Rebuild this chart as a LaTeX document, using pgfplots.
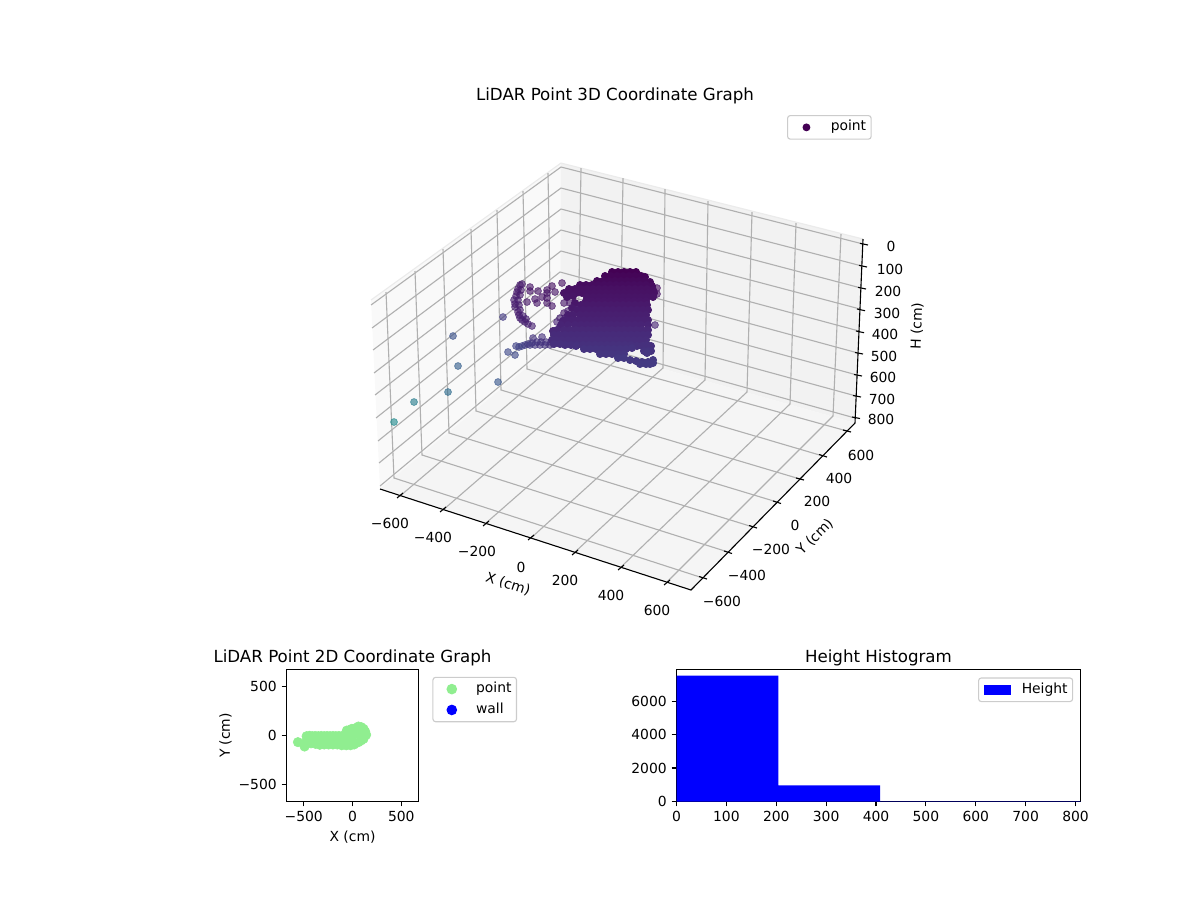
\documentclass[border=0pt]{standalone}
\usepackage{fontspec}
\setmainfont{DejaVu Sans}
\usepackage{pgfplots}
\pgfplotsset{compat=1.18}
\definecolor{gridc}{HTML}{B0B0B0}
\definecolor{legc}{HTML}{CCCCCC}
\definecolor{lgreen}{HTML}{90EE90}
\definecolor{vdark}{HTML}{440154}
\pgfplotsset{
  mpl/.style={
    scale only axis, axis line style={black,line width=.8pt},
    tick align=outside, major tick length=3.5pt,
    tick style={black,line width=.8pt},
    xtick pos=bottom, ytick pos=left,
    tick label style={font=\fontsize{10}{12}\selectfont},
    label style={font=\fontsize{10}{12}\selectfont},
    title style={font=\fontsize{12}{14}\selectfont,yshift=-7pt},
    /pgf/number format/assume math mode=true,
  },
  gl/.style={forget plot,gridc,line width=.8pt,no marks},
  ax/.style={forget plot,black,line width=.8pt,no marks},
  leg/.style={draw=legc,rounded corners=2pt,fill=white,
    font=\fontsize{10}{12}\selectfont,inner xsep=3.6pt,inner ysep=3.6pt,line width=.8pt,
    row sep=5.2pt,
    nodes={inner sep=0pt,text height=7.5pt,text depth=2.3pt},
    /tikz/column 1/.style={column sep=7.5pt}},
  markleg/.style={legend image code/.code={%
    \path[draw=none,fill=none] (0pt,0pt) -- (20pt,0pt);
    \draw[##1] plot coordinates {(10pt,0pt)};}},
}
\newcommand{\tl}[3]{\node[font=\fontsize{10}{12}\selectfont,inner sep=0pt] at (axis cs:#1,#2) {#3};}
\begin{document}
\begin{tikzpicture}
\path[use as bounding box] (0,0) rectangle (864pt,648pt);
\begin{axis}[at={(0,0)},anchor=south west,scale only axis,width=864pt,height=648pt,
  xmin=0,xmax=1200,ymin=0,ymax=900,y dir=reverse,hide axis,clip=false,
  colormap/viridis,point meta min=0,point meta max=1,
  markleg,
  legend style={leg,at={(787/1200,1-115/900)},anchor=north west,legend cell align=left},
  scatter/use mapped color={draw=mapped color,fill=mapped color},
]
% panes
\addplot[forget plot,draw=none,fill=black!2.5] coordinates {(371,300)(561,163)(560,340)(380,489)} -- cycle;
\addplot[forget plot,draw=none,fill=black!5] coordinates {(561,163)(863,239)(855,423)(560,340)} -- cycle;
\addplot[forget plot,draw=none,fill=black!3.75] coordinates {(380,489)(691,590)(855,423)(560,340)} -- cycle;
\addplot[forget plot,black!8,line width=.8pt,no marks] coordinates {(371,300)(561,163)(863,239)};
% grid, walls: H = 0 ... 800
\addplot[gl] coordinates {(371,305)(561,167)(863,244)};
\addplot[gl] coordinates {(372,328)(561,188)(862,266)};
\addplot[gl] coordinates {(373,350)(561,209)(861,288)};
\addplot[gl] coordinates {(374,373)(561,230)(860,309)};
\addplot[gl] coordinates {(375,395)(561,251)(859,331)};
\addplot[gl] coordinates {(376,418)(560,272)(858,353)};
\addplot[gl] coordinates {(378,441)(560,294)(857,375)};
\addplot[gl] coordinates {(379,463)(560,315)(856,396)};
\addplot[gl] coordinates {(380,486)(560,336)(855,418)};
% grid, back wall verticals and floor, X = -600 ... 600
\addplot[gl] coordinates {(581,168)(578,345)(400,496)};
\addplot[gl] coordinates {(623,178)(620,357)(443,510)};
\addplot[gl] coordinates {(665,189)(663,368)(486,523)};
\addplot[gl] coordinates {(708,201)(705,380)(531,538)};
\addplot[gl] coordinates {(752,212)(747,392)(575,552)};
\addplot[gl] coordinates {(796,223)(790,404)(621,567)};
\addplot[gl] coordinates {(841,234)(833,416)(667,582)};
% grid, left wall verticals and floor, Y = -600 ... 600
\addplot[gl] coordinates {(386,292)(394,478)(703,578)};
\addplot[gl] coordinates {(415,271)(422,455)(728,552)};
\addplot[gl] coordinates {(443,249)(449,433)(753,527)};
\addplot[gl] coordinates {(471,229)(476,411)(777,502)};
\addplot[gl] coordinates {(497,210)(501,390)(800,479)};
\addplot[gl] coordinates {(523,191)(527,369)(823,456)};
\addplot[gl] coordinates {(548,173)(551,349)(847,431)};
% axes
\addplot[ax] coordinates {(380,489)(691,590)(855,423)(863,239)};
% ticks
\addplot[ax] coordinates {(397,498)(403,493)};
\addplot[ax] coordinates {(440,512)(446,507)};
\addplot[ax] coordinates {(483,526)(489,521)};
\addplot[ax] coordinates {(528,540)(534,535)};
\addplot[ax] coordinates {(572,555)(578,550)};
\addplot[ax] coordinates {(618,570)(624,565)};
\addplot[ax] coordinates {(664,585)(670,580)};
\addplot[ax] coordinates {(699,576.5)(707,579)};
\addplot[ax] coordinates {(724,551)(732,553.5)};
\addplot[ax] coordinates {(749,525.5)(757,528)};
\addplot[ax] coordinates {(773,501)(781,503.5)};
\addplot[ax] coordinates {(796,478)(804,480)};
\addplot[ax] coordinates {(819,454.5)(827,457)};
\addplot[ax] coordinates {(843,430)(851,432)};
\addplot[ax] coordinates {(860,243.3)(868,245)};
\addplot[ax] coordinates {(859,265.3)(867,267)};
\addplot[ax] coordinates {(858,287.3)(866,289)};
\addplot[ax] coordinates {(857,309)(865,310.7)};
\addplot[ax] coordinates {(856,331)(864,332.7)};
\addplot[ax] coordinates {(855,352.5)(863,354)};
\addplot[ax] coordinates {(854,374.5)(862,376)};
\addplot[ax] coordinates {(853,395.5)(861,397)};
\addplot[ax] coordinates {(852,417)(860,418.5)};
% scattered points, partly transparent
\addplot[forget plot,scatter,only marks,mark=*,mark size=2.5pt,line width=.5pt,scatter src=explicit,
  mark options={fill opacity=.62,draw opacity=.66}] coordinates {
(394,422)[.48](414,402)[.42](448,392)[.35](458,366)[.30](498,382)[.27](453,336)[.25](503,317)[.17](508,352)[.22](515,355)[.22]
(520,285)[.07](518,289)[.07](517,292)[.07](516,296)[.07](514,300)[.08](515,304)[.08](515,307)[.08](518,312)[.08](519,315)[.08]
(520,318)[.09](522,320)[.09](525,322)[.09](528,324)[.09](532,326)[.09]
(522,284)[.07](521,290)[.07](520,295)[.07](518,300)[.08](519,305)[.08](520,310)[.08](523,316)[.09](526,319)[.09]
(530,287)[.05](530,291)[.05](538,291)[.05](547,290)[.05](552,286)[.04](562,283)[.04](555,292)[.05](547,293)[.05](542,297)[.05](535,299)[.06]
(527,302)[.06](537,303)[.06](547,298)[.05](547,303)[.06](552,306)[.06](564,303)[.06](570,303)[.06](564,313)[.07]
(516,346)[.20](522,346)[.19](525,345)[.18](528,344)[.17](532,343)[.16](537,342)[.15](541,342)[.15](546,342)[.14](551,342)[.14]
(519,347)[.20](530,345)[.17](535,345)[.16](540,345)[.15](545,345)[.15](550,345)[.14](533,338)[.15](542,337)[.14]
(557,322)[.10](560,318)[.09](565,318)[.09](560,328)[.11](568,311)[.08](655,325)[.10](657,294)[.05](657,288)[.04]
};
% main cluster
\addplot[forget plot,scatter,only marks,mark=*,mark size=2.6pt,line width=.5pt,scatter src=explicit] coordinates {
(575,303)[.06](572,308)[.07](568,315)[.08](563,321)[.09](553,331)[.11]
(612,272)[0](618,272)[0](624,272)[0](630,272)[0](636,272)[0]
(605,276)[.01](611,276)[.01](617,276)[.01](623,276)[.01](629,276)[.01](635,276)[.01](641,276)[.01](645,277)[.01]
(597,281)[.02](603,281)[.02](609,281)[.02](615,281)[.02](621,281)[.02](627,281)[.02](633,281)[.02](639,281)[.02](645,281)[.02](650,282)[.02]
(580,285)[.03](586,285)[.03](592,285)[.03](598,285)[.03](604,285)[.03](610,285)[.03](616,285)[.03](622,285)[.03](628,285)[.03](634,285)[.03](640,285)[.03](646,285)[.03](652,286)[.03]
(569,289)[.04](575,289)[.04](581,289)[.04](587,289)[.04](593,289)[.04](599,289)[.04](605,289)[.04](611,289)[.04](617,289)[.04](623,289)[.04](629,289)[.04](635,289)[.04](641,289)[.04](647,289)[.04](653,290)[.04]
(564,293)[.045](570,293)[.045](576,293)[.045](582,293)[.045](588,293)[.045](594,293)[.045](600,293)[.045](606,293)[.045](612,293)[.045](618,293)[.045](624,293)[.045](630,293)[.045](636,293)[.045](642,293)[.045](648,293)[.045](654,293)[.045]
(567,297)[.05](573,296)[.05](587,297)[.05](593,297)[.05](599,297)[.05](605,297)[.05](611,297)[.05](617,297)[.05](623,297)[.05](629,297)[.05](635,297)[.05](641,297)[.05](647,297)[.05](653,297)[.05]
(586,301)[.055](592,301)[.055](598,301)[.055](604,301)[.055](610,301)[.055](616,301)[.055](622,301)[.055](628,301)[.055](634,301)[.055](640,301)[.055](646,301)[.055]
(581,305)[.065](587,305)[.065](593,305)[.065](599,305)[.065](605,305)[.065](611,305)[.065](617,305)[.065](623,305)[.065](629,305)[.065](635,305)[.065](641,305)[.065](647,305)[.065]
(577,310)[.075](583,310)[.075](589,310)[.075](595,310)[.075](601,310)[.075](607,310)[.075](613,310)[.075](619,310)[.075](625,310)[.075](631,310)[.075](637,310)[.075](643,310)[.075](648,310)[.075]
(573,315)[.085](580,315)[.085](586,315)[.085](592,315)[.085](598,315)[.085](604,315)[.085](610,315)[.085](616,315)[.085](622,315)[.085](628,315)[.085](634,315)[.085](640,315)[.085](646,315)[.085]
(566,320)[.09](572,320)[.09](578,320)[.09](584,320)[.09](590,320)[.09](596,320)[.09](602,320)[.09](608,320)[.09](614,320)[.09](620,320)[.09](626,320)[.09](632,320)[.09](638,320)[.09](644,320)[.09](648,320)[.09]
(561,325)[.10](568,325)[.10](575,325)[.10](581,325)[.10](587,325)[.10](593,325)[.10](599,325)[.10](605,325)[.10](611,325)[.10](617,325)[.10](623,325)[.10](629,325)[.10](635,325)[.10](641,325)[.10](648,325)[.10]
(557,330)[.11](564,330)[.11](570,330)[.11](576,330)[.11](582,330)[.11](588,330)[.11](594,330)[.11](600,330)[.11](606,330)[.11](612,330)[.11](618,330)[.11](624,330)[.11](630,330)[.11](636,330)[.11](642,330)[.11](648,330)[.11]
(554,335)[.12](559,335)[.12](565,335)[.12](571,335)[.12](577,335)[.12](583,335)[.12](589,335)[.12](595,335)[.12](601,335)[.12](607,335)[.12](613,335)[.12](619,335)[.12](625,335)[.12](631,335)[.12](637,335)[.12](643,335)[.12](648,335)[.12]
(552,340)[.125](556,340)[.125](562,340)[.125](568,340)[.125](574,340)[.125](580,340)[.125](586,340)[.125](592,340)[.125](598,340)[.125](604,340)[.125](610,340)[.125](616,340)[.125](622,340)[.125](628,340)[.125](634,340)[.125](640,340)[.125](646,340)[.125]
(554,344)[.135](560,344)[.135](565,345)[.135](571,345)[.135](577,345)[.135](583,345)[.135](589,345)[.135](595,345)[.135](601,345)[.135](607,345)[.135](613,345)[.135](619,345)[.135](625,345)[.135](631,345)[.135](637,346)[.135](642,346)[.135](647,345)[.135](651,346)[.135]
(576,346)[.14](584,349)[.145](590,349)[.145](596,349)[.145](602,349)[.145](608,349)[.145](614,349)[.145](620,349)[.145](626,349)[.145](632,348)[.145](644,351)[.145](648,351)[.145](651,351)[.145]
(600,354)[.155](606,354)[.155](612,354)[.155](618,354)[.155](624,354)[.155](647,353)[.155]
(618,358)[.165](624,358)[.165](630,360)[.165](636,361)[.165](642,362)[.165](648,362)[.165](653,360)[.165]
(640,364)[.17](646,364)[.17](650,364)[.17](653,363)[.17]
};
\addlegendimage{only marks,mark=*,mark size=2.4pt,draw=vdark,fill=vdark}
\addlegendentry{point}
% text
\node[font=\fontsize{12}{14}\selectfont,inner sep=0pt] at (axis cs:615,96) {LiDAR Point 3D Coordinate Graph};
\tl{390}{523}{−600}\tl{433}{537}{−400}\tl{477}{551}{−200}\tl{521}{567}{0}\tl{565}{580}{200}\tl{611}{595}{400}\tl{657}{610}{600}
\tl{722}{601}{−600}\tl{747}{575}{−400}\tl{771}{549}{−200}\tl{795}{525}{0}\tl{817}{501}{200}\tl{839}{478}{400}\tl{861}{455}{600}
\tl{891}{246}{0}\tl{890}{269}{100}\tl{888}{291}{200}\tl{887}{313}{300}\tl{885}{334}{400}\tl{884}{356}{500}\tl{883}{377}{600}\tl{882}{399}{700}\tl{881}{419}{800}
\node[font=\fontsize{10}{12}\selectfont,inner sep=0pt,rotate=-18] at (axis cs:508,584) {X (cm)};
\node[font=\fontsize{10}{12}\selectfont,inner sep=0pt,rotate=45] at (axis cs:815,537) {Y (cm)};
\node[font=\fontsize{10}{12}\selectfont,inner sep=0pt,rotate=88] at (axis cs:917,326) {H (cm)};
\end{axis}
% 2D scatter
\begin{axis}[mpl,at={(206.28pt,70.92pt)},anchor=south west,width=95.04pt,height=95.04pt,
  xmin=-676,xmax=676,ymin=-676,ymax=676,
  xtick={-500,0,500},xticklabels={−500,0,500},ytick={-500,0,500},yticklabels={−500,0,500},
  xlabel={X (cm)},ylabel={Y (cm)},title={LiDAR Point 2D Coordinate Graph},
  ylabel style={yshift=-2pt},xlabel style={yshift=.5pt},
  markleg,
  legend style={leg,at={(1.105,.945)},anchor=north west,legend cell align=left},
]
\addplot[only marks,mark=*,mark size=3.4pt,lgreen,mark options={fill=lgreen,draw=lgreen}] coordinates {
(-559,-68)(-491,-113)
(-470,-7)(-440,-3)(-410,-7)(-380,-5)(-350,-7)(-320,-5)(-290,-7)(-260,-5)(-230,-7)(-200,-5)(-170,-7)(-140,-5)(-110,-7)(-80,-5)(-50,-7)(-20,-7)
(-470,-51)(-425,-51)(-380,-51)(-335,-51)(-290,-51)(-245,-51)(-200,-51)(-155,-51)(-110,-51)(-65,-51)(-20,-51)
(-470,-75)(-425,-80)(-380,-85)(-335,-95)(-290,-92)(-245,-92)(-200,-92)(-155,-92)(-110,-100)(-65,-100)(-20,-100)
(-58,51)(-30,55)(-7,68)(30,75)(61,92)(90,85)(113,68)(130,40)(140,7)(113,-34)(90,-50)(61,-68)(17,-92)(-58,-92)(0,0)(61,17)(-30,40)(30,40)(85,30)
};
\addlegendentry{point}
\addlegendimage{only marks,mark=*,mark size=3.4pt,draw=blue,fill=blue}
\addlegendentry{wall}
\end{axis}
% histogram
\begin{axis}[mpl,at={(487.08pt,70.92pt)},anchor=south west,width=290.88pt,height=95.04pt,
  xmin=0,xmax=810,ymin=0,ymax=7890,
  xtick={0,100,...,800},ytick={0,2000,4000,6000},scaled y ticks=false,
  /pgf/number format/1000 sep={},title={Height Histogram},
  legend image code/.code={\fill[blue,sharp corners] (0pt,-3.5pt) rectangle (20pt,3.5pt);},
  legend style={leg,at={(.982,.94)},anchor=north east,legend cell align=left},
]
\addplot[ybar interval,draw=none,fill=blue] coordinates {(0,7530)(204,970)(408,6)(609,4)(810,4)};
\addlegendentry{Height}
\end{axis}
\end{tikzpicture}
\end{document}
